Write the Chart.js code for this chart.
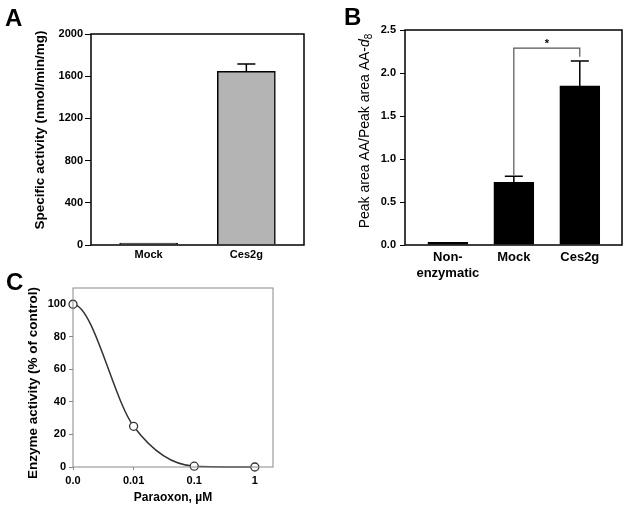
<!DOCTYPE html>
<html>
<head>
<meta charset="utf-8">
<script src="https://cdn.jsdelivr.net/npm/chart.js@4/dist/chart.umd.min.js"></script>
<style>
html, body { margin: 0; padding: 0; background: #fff; width: 629px; height: 511px; overflow: hidden; }
.box { position: absolute; }
.box canvas { display: block; }
.lett { position: absolute; font: bold 24px "Liberation Sans", Arial, sans-serif; line-height: 24px; color: #000; }
</style>
</head>
<body>
<div class="box" style="left:0px;top:0px;width:315px;height:260px"><canvas id="cA" width="315" height="260"></canvas></div>
<div class="box" style="left:315px;top:0px;width:314px;height:280px"><canvas id="cB" width="314" height="280"></canvas></div>
<div class="box" style="left:0px;top:260px;width:320px;height:251px"><canvas id="cC" width="320" height="251"></canvas></div>
<div class="lett" style="left:5px;top:6px">A</div>
<div class="lett" style="left:344px;top:5px">B</div>
<div class="lett" style="left:6px;top:270px">C</div>
<script>
// ---------- Panel A ----------
const catsA = ['Mock', 'Ces2g'];
const valuesA = [18, 1645];
const errorsA = [0, 71];
const ticksA = [0, 400, 800, 1200, 1600, 2000];
const titleA = 'Specific activity (nmol/min/mg)';

// ---------- Panel B ----------
const catsB = [['Non-', 'enzymatic'], 'Mock', 'Ces2g'];
const valuesB = [0.03, 0.73, 1.85];
const errorsB = [0, 0.07, 0.29];
const ticksB = [0, 0.5, 1.0, 1.5, 2.0, 2.5];
const sigB = { from: 1, to: 2, level: 2.29, leftFoot: 0.81, rightFoot: 2.19, mark: '*' };
const titleB = ['Peak area AA/Peak area AA-', 'd', '8'];

// ---------- Panel C ----------
const catsC = ['0.0', '0.01', '0.1', '1'];
const valuesC = [100, 25, 0.5, 0];
const ticksC = [0, 20, 40, 60, 80, 100];
const titleC = 'Enzyme activity (% of control)';
const xTitleC = 'Paraoxon, \u00b5M';

const FONT = '"Liberation Sans", Arial, sans-serif';
Chart.defaults.font.family = FONT;
Chart.defaults.color = '#000';

function framePlugin(color, width) {
  return {
    id: 'frame',
    afterDraw(chart) {
      const { ctx, chartArea: a } = chart;
      ctx.save();
      ctx.strokeStyle = color;
      ctx.lineWidth = width;
      ctx.strokeRect(a.left, a.top, a.right - a.left, a.bottom - a.top);
      ctx.restore();
    }
  };
}

// vertical axis title made of styled runs (allows italic / subscript)
function yTitlePlugin(x, shift, parts) {
  return {
    id: 'ytitle',
    afterDraw(chart) {
      const ctx = chart.ctx, a = chart.chartArea;
      const cy = (a.top + a.bottom) / 2 + shift;
      ctx.save();
      ctx.translate(x, cy);
      ctx.rotate(-Math.PI / 2);
      ctx.textBaseline = 'middle';
      ctx.textAlign = 'left';
      ctx.fillStyle = '#000';
      let total = 0;
      const w = parts.map(p => { ctx.font = p.font; const m = ctx.measureText(p.text).width; total += m; return m; });
      let cx = -total / 2;
      parts.forEach((p, i) => { ctx.font = p.font; ctx.fillText(p.text, cx, p.dy || 0); cx += w[i]; });
      ctx.restore();
    }
  };
}

function errPlugin(values, errors, cap) {
  return {
    id: 'errbars',
    afterDatasetsDraw(chart) {
      const ctx = chart.ctx, xs = chart.scales.x, ys = chart.scales.y;
      ctx.save();
      ctx.strokeStyle = '#000';
      ctx.lineWidth = 1.5;
      values.forEach((v, i) => {
        const e = errors[i];
        if (!e) return;
        const x = xs.getPixelForValue(i);
        const y0 = ys.getPixelForValue(v);
        const y1 = ys.getPixelForValue(v + e);
        ctx.beginPath();
        ctx.moveTo(x, y0); ctx.lineTo(x, y1);
        ctx.moveTo(x - cap, y1); ctx.lineTo(x + cap, y1);
        ctx.stroke();
      });
      ctx.restore();
    }
  };
}

const sigPlugin = {
  id: 'sig',
  afterDraw(chart) {
    const ctx = chart.ctx, xs = chart.scales.x, ys = chart.scales.y;
    const x1 = xs.getPixelForValue(sigB.from), x2 = xs.getPixelForValue(sigB.to);
    const yt = ys.getPixelForValue(sigB.level);
    ctx.save();
    ctx.strokeStyle = '#555';
    ctx.lineWidth = 1.2;
    ctx.beginPath();
    ctx.moveTo(x1, ys.getPixelForValue(sigB.leftFoot));
    ctx.lineTo(x1, yt);
    ctx.lineTo(x2, yt);
    ctx.lineTo(x2, ys.getPixelForValue(sigB.rightFoot));
    ctx.stroke();
    ctx.fillStyle = '#000';
    ctx.font = 'bold 11px ' + FONT;
    ctx.textAlign = 'center';
    ctx.textBaseline = 'middle';
    ctx.fillText(sigB.mark, (x1 + x2) / 2, yt - 4);
    ctx.restore();
  }
};

// make the fitted curve leave the first point horizontally (sigmoid look)
const flatStartPlugin = {
  id: 'flatStart',
  beforeDatasetDraw(chart, args) {
    try {
      const meta = chart.getDatasetMeta(args.index);
      meta.dataset.updateControlPoints(chart.chartArea, 'x');
      const p0 = meta.data[0];
      p0.cp2y = p0.y;
    } catch (e) {}
  }
};

const plain = v => String(v);

// ---------- Chart A ----------
new Chart(document.getElementById('cA'), {
  type: 'bar',
  data: {
    datasets: [{
      data: catsA.map((c, i) => ({ x: i, y: valuesA[i] })),
      backgroundColor: '#b4b4b4',
      borderColor: '#000',
      borderWidth: 1.5,
      barThickness: 58
    }]
  },
  options: {
    responsive: false,
    animation: false,
    layout: { padding: { top: 34, right: 11, left: 0, bottom: 0 } },
    plugins: { legend: { display: false }, tooltip: { enabled: false } },
    scales: {
      x: {
        type: 'linear', min: -0.59, max: 1.59, offset: false,
        afterBuildTicks: s => { s.ticks = catsA.map((c, i) => ({ value: i })); },
        afterFit: s => { s.height = 15; },
        ticks: { callback: v => catsA[v], font: { weight: 'bold', size: 11 }, padding: 3, maxRotation: 0, autoSkip: false },
        grid: { display: false, drawTicks: false, offset: false },
        border: { display: false }
      },
      y: {
        min: 0, max: 2000,
        afterBuildTicks: s => { s.ticks = ticksA.map(v => ({ value: v })); },
        afterFit: s => { s.width = 91; },
        ticks: { font: { weight: 'bold', size: 11 }, padding: 2, callback: plain },
        grid: { drawOnChartArea: false, tickLength: 6, color: '#000', lineWidth: 1 },
        border: { display: false },
        title: { display: false, text: titleA }
      }
    }
  },
  plugins: [
    framePlugin('#000', 1.5),
    errPlugin(valuesA, errorsA, 9),
    yTitlePlugin(40, -9.5, [{ text: titleA, font: 'bold 13.5px ' + FONT }])
  ]
});

// ---------- Chart B ----------
new Chart(document.getElementById('cB'), {
  type: 'bar',
  data: {
    datasets: [{
      data: catsB.map((c, i) => ({ x: i, y: valuesB[i] })),
      backgroundColor: '#000',
      borderColor: '#000',
      borderWidth: 1,
      barThickness: 40
    }]
  },
  options: {
    responsive: false,
    animation: false,
    layout: { padding: { top: 30, right: 7, left: 0, bottom: 0 } },
    plugins: { legend: { display: false }, tooltip: { enabled: false } },
    scales: {
      x: {
        type: 'linear', min: -0.65, max: 2.64, offset: false,
        afterBuildTicks: s => { s.ticks = catsB.map((c, i) => ({ value: i })); },
        afterFit: s => { s.height = 35; },
        ticks: { callback: v => catsB[v], font: { weight: 'bold', size: 13 }, padding: 5, maxRotation: 0, autoSkip: false },
        grid: { display: false, drawTicks: false, offset: false },
        border: { display: false }
      },
      y: {
        min: 0, max: 2.5,
        afterBuildTicks: s => { s.ticks = ticksB.map(v => ({ value: v })); },
        afterFit: s => { s.width = 90; },
        ticks: { font: { weight: 'bold', size: 11 }, padding: 4, callback: v => Number(v).toFixed(1) },
        grid: { drawOnChartArea: false, tickLength: 5, color: '#000', lineWidth: 1 },
        border: { display: false },
        title: { display: false, text: titleB.join('') }
      }
    }
  },
  plugins: [
    framePlugin('#000', 1.5),
    errPlugin(valuesB, errorsB, 9),
    sigPlugin,
    yTitlePlugin(50, -6.5, [
      { text: titleB[0], font: '14px ' + FONT },
      { text: titleB[1], font: 'italic 14px ' + FONT },
      { text: titleB[2], font: '10px ' + FONT, dy: 4 }
    ])
  ]
});

// ---------- Chart C ----------
new Chart(document.getElementById('cC'), {
  type: 'line',
  data: {
    datasets: [{
      data: catsC.map((c, i) => ({ x: i, y: valuesC[i] })),
      borderColor: '#333',
      borderWidth: 1.5,
      pointRadius: 4,
      pointBorderWidth: 1.3,
      pointBackgroundColor: '#fff',
      pointBorderColor: '#333',
      cubicInterpolationMode: 'monotone',
      fill: false,
      clip: false
    }]
  },
  options: {
    responsive: false,
    animation: false,
    layout: { padding: { top: 28, right: 47, left: 0, bottom: 0 } },
    plugins: { legend: { display: false }, tooltip: { enabled: false } },
    scales: {
      x: {
        type: 'linear', min: 0, max: 3.3,
        afterBuildTicks: s => { s.ticks = catsC.map((c, i) => ({ value: i })); },
        afterFit: s => { s.height = 44; },
        ticks: { callback: v => catsC[v], font: { weight: 'bold', size: 11 }, padding: 4, maxRotation: 0, autoSkip: false },
        grid: { drawOnChartArea: false, tickLength: 3, color: '#888', lineWidth: 1 },
        border: { display: false },
        title: { display: true, text: xTitleC, font: { weight: 'bold', size: 12 }, padding: { top: 0, bottom: 6 } }
      },
      y: {
        min: 0, max: 110,
        afterBuildTicks: s => { s.ticks = ticksC.map(v => ({ value: v })); },
        afterFit: s => { s.width = 73; },
        ticks: { font: { weight: 'bold', size: 11 }, padding: 3 },
        grid: { drawOnChartArea: false, tickLength: 4, color: '#888', lineWidth: 1 },
        border: { display: false },
        title: { display: false, text: titleC }
      }
    }
  },
  plugins: [
    framePlugin('#8a8a8a', 1),
    flatStartPlugin,
    yTitlePlugin(33, 5.5, [{ text: titleC, font: 'bold 13.5px ' + FONT }])
  ]
});
</script>
</body>
</html>
